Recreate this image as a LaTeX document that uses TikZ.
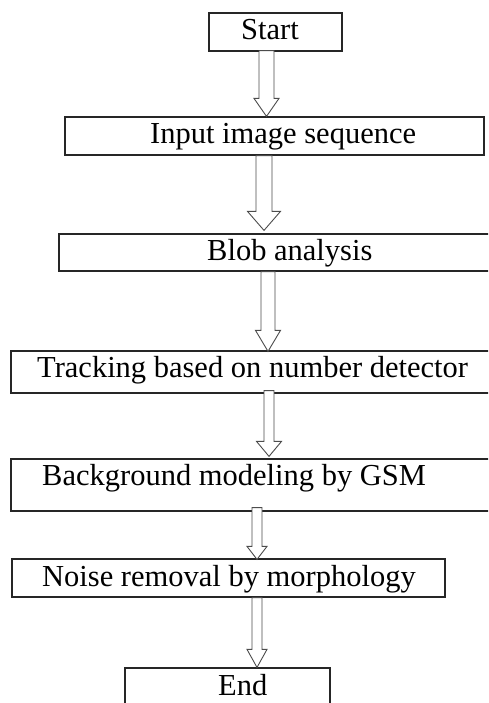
\documentclass[tikz,border=0pt]{standalone}
\usepackage{fontspec}
\setmainfont{Liberation Serif}
\usetikzlibrary{calc}

% Hollow block arrow from the bottom of node #1 to the top of node #2.
% #3 centre x, #4 half shaft width, #5 half head width, #6 head length,
% #7 shift of the shaft top (up), #8 shift of the tip (up)
\newcommand{\blockarrow}[8]{%
  \draw[barrow] let \p1=(#1.south), \p2=(#2.north) in
    ({#3pt-#4pt},{\y1+(#7pt)}) -- ({#3pt-#4pt},{\y2+(#8pt)+#6pt})
    -- ({#3pt-#5pt},{\y2+(#8pt)+#6pt}) -- ({#3pt},{\y2+(#8pt)})
    -- ({#3pt+#5pt},{\y2+(#8pt)+#6pt}) -- ({#3pt+#4pt},{\y2+(#8pt)+#6pt})
    -- ({#3pt+#4pt},{\y1+(#7pt)}) -- cycle;}

\begin{document}
\begin{tikzpicture}[x=1pt,y=1pt,
  box/.style={rectangle, draw=black!85, line width=1.2pt, fill=white, inner sep=0pt},
  lbl/.style={anchor=base west, inner sep=0pt, font=\fontsize{30.5}{36}\selectfont},
  barrow/.style={draw=black!70, line width=0.9pt, fill=white, line join=miter}]
\useasboundingbox (0,0) rectangle (488,703);
\clip (0,0) rectangle (488,703);

% process boxes
\node[box, minimum width=133pt, minimum height=38pt] (start) at (275.5,671) {};
\node[box, minimum width=419pt, minimum height=38pt] (input) at (274.5,567) {};
\node[box, minimum width=441pt, minimum height=37pt] (blob)  at (279.5,450.5) {};
\node[box, minimum width=489pt, minimum height=42pt] (track) at (255.5,331) {};
\node[box, minimum width=489pt, minimum height=52pt] (bg)    at (255.5,218) {};
\node[box, minimum width=433pt, minimum height=38pt] (noise) at (228.5,125) {};
\node[box, minimum width=205pt, minimum height=52pt] (finish) at (227.5,9) {};

% box texts
\node[lbl] (tstart)  at (241,663) {Start};
\node[lbl] (tinput)  at (150,559) {Input image sequence};
\node[lbl] (tblob)   at (207,442) {Blob analysis};
\node[lbl] (ttrack)  at (37,325)  {Tracking based on number detector};
\node[lbl] (tbg)     at (42,217)  {Background modeling by GSM};
\node[lbl] (tnoise)  at (42,116)  {Noise removal by morphology};
\node[lbl] (tfinish) at (218,8)   {End};

% block arrows between the steps
\blockarrow{start}{input}{266.5}{7.5}{12.5}{18}{1}{0}
\blockarrow{input}{blob}{264}{8}{16.5}{19}{0}{3}
\blockarrow{blob}{track}{268}{7}{12.5}{21}{0}{-1}
\blockarrow{track}{bg}{269}{5}{12.5}{15}{3}{2}
\blockarrow{bg}{noise}{257}{5}{10}{13}{4}{-1}
\blockarrow{noise}{finish}{257}{5}{10}{18}{0}{0}
\end{tikzpicture}
\end{document}
